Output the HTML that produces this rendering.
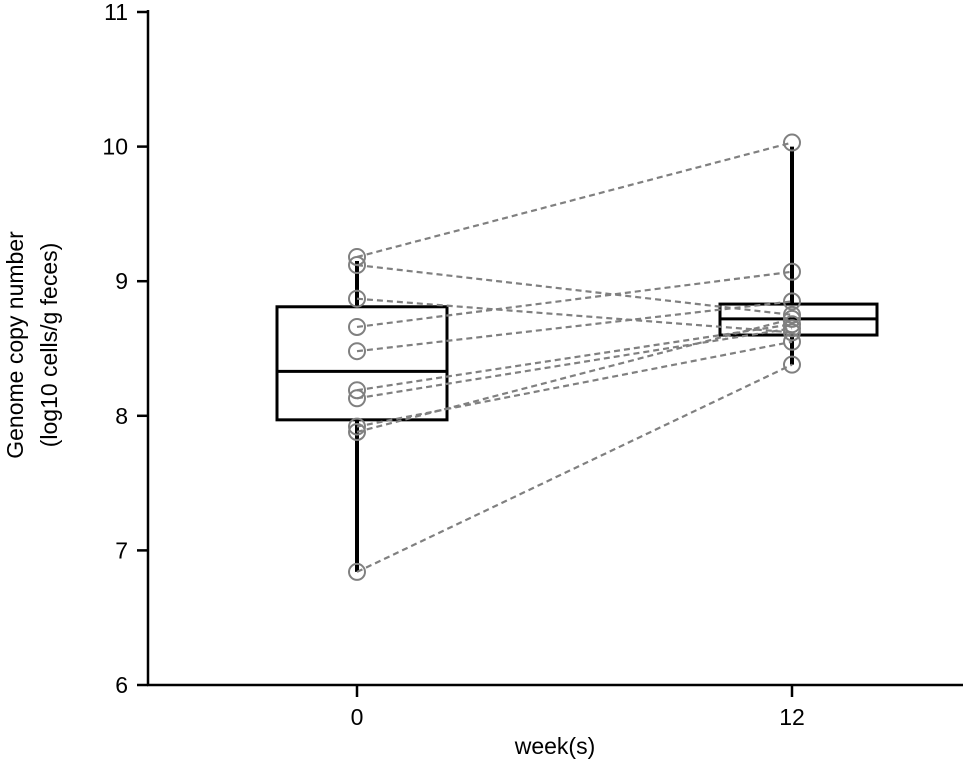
<!DOCTYPE html>
<html><head><meta charset="utf-8"><style>
body{margin:0;background:#fff;font-family:"Liberation Sans",Arial,sans-serif}
</style></head><body>
<svg id="c" width="965" height="759" xmlns="http://www.w3.org/2000/svg"></svg>
<script>
const weeks=["0","12"];
const week0=[9.18,9.12,8.87,8.66,8.48,8.19,8.13,7.92,7.88,6.84];
const week12=[10.03,8.75,8.62,9.07,8.85,8.68,8.65,8.55,8.72,8.38];
const box0=[6.84,7.97,8.33,8.81,9.15];
const box12=[8.38,8.60,8.72,8.83,10.0];
const yTicks=[6,7,8,9,10,11];
const svg=document.getElementById('c');
const NS="http://www.w3.org/2000/svg";
const y=v=>685-(v-6)*134.6;
const xs=[357,792];
function el(t,a,name,parent){const e=document.createElementNS(NS,t);for(const k in a)e.setAttribute(k,a[k]);


(parent||svg).appendChild(e);return e;}
el('line',{x1:148,y1:10,x2:148,y2:686,stroke:'#000','stroke-width':2.5},'y-axis');
el('line',{x1:147,y1:685,x2:963,y2:685,stroke:'#000','stroke-width':2.5},'x-axis');
yTicks.forEach(t=>{
el('line',{x1:137,y1:y(t),x2:148,y2:y(t),stroke:'#000','stroke-width':2.5},'y-tick');
const tx=el('text',{x:128,y:y(t)+8,'text-anchor':'end','font-size':23},'y-tick-label');tx.textContent=t;});
weeks.forEach((w,i)=>{
el('line',{x1:xs[i],y1:685,x2:xs[i],y2:697,stroke:'#000','stroke-width':2.5},'x-tick');
const tx=el('text',{x:xs[i],y:725,'text-anchor':'middle','font-size':23},'x-tick-label');tx.textContent=w;});
const xt=el('text',{x:555,y:754,'text-anchor':'middle','font-size':23},'x-axis-title');xt.textContent='week(s)';
const yt=el('text',{transform:'translate(23,345) rotate(-90)','text-anchor':'middle','font-size':23},'y-axis-title');
yt.innerHTML='<tspan x="0" dy="0">Genome copy number</tspan><tspan x="0" dy="34">(log10 cells/g feces)</tspan>';
function box(b,x,x0,x1,name){
el('line',{x1:x,y1:y(b[0]),x2:x,y2:y(b[4]),stroke:'#000','stroke-width':4},name+'-whisker');
el('rect',{x:x0,y:y(b[3]),width:x1-x0,height:y(b[1])-y(b[3]),fill:'#fff',stroke:'#000','stroke-width':3},name+'-box');
el('line',{x1:x0,y1:y(b[2]),x2:x1,y2:y(b[2]),stroke:'#000','stroke-width':3},name+'-median');}
box(box0,xs[0],277,447,'week0');
box(box12,xs[1],720,877,'week12');
week0.forEach((v,i)=>{
el('line',{x1:xs[0],y1:y(v),x2:xs[1],y2:y(week12[i]),stroke:'#808080','stroke-width':2.2,'stroke-dasharray':'6,4'},'pair-line');});
week0.forEach(v=>el('circle',{cx:xs[0],cy:y(v),r:8,fill:'none',stroke:'#808080','stroke-width':2},'point-week0'));
week12.forEach(v=>el('circle',{cx:xs[1],cy:y(v),r:8,fill:'none',stroke:'#808080','stroke-width':2},'point-week12'));
</script>
</body></html>
